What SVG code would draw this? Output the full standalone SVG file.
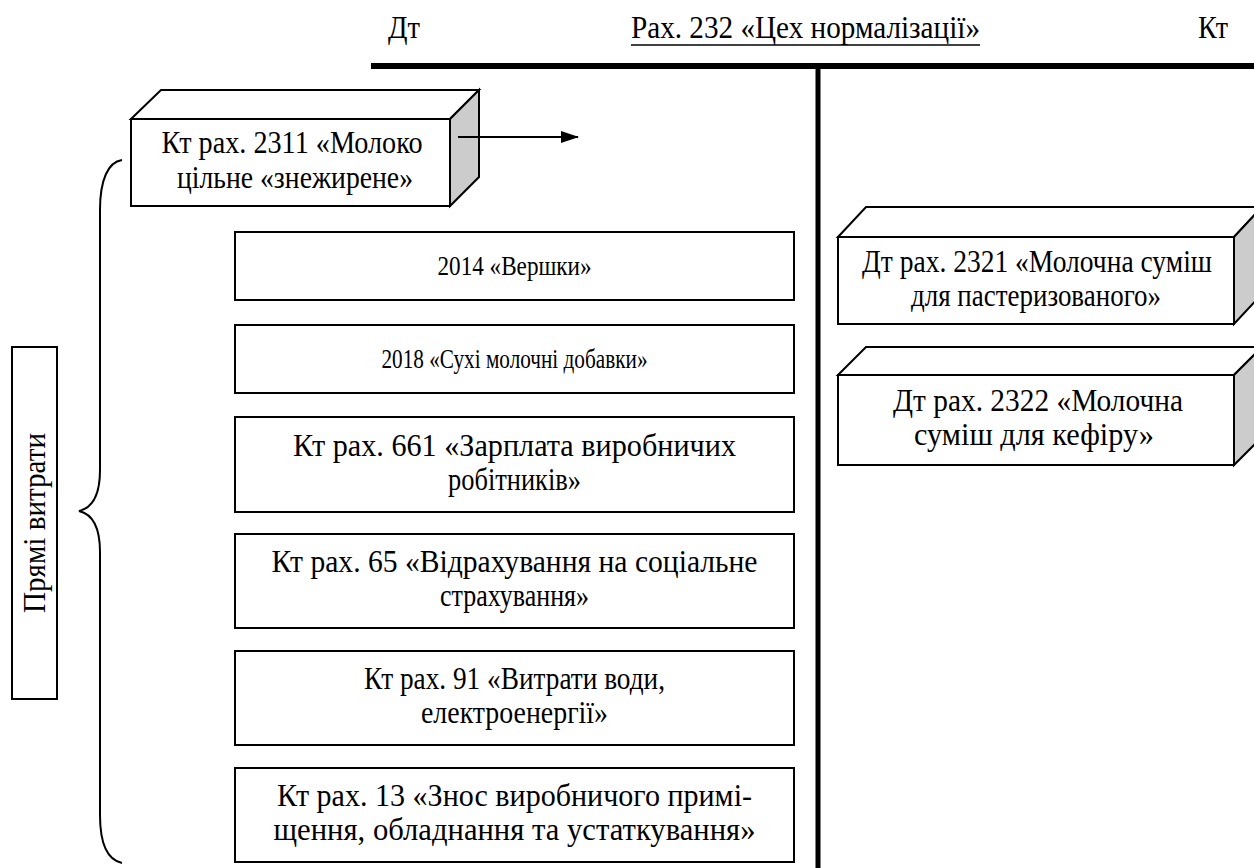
<svg xmlns="http://www.w3.org/2000/svg" width="1254" height="868" viewBox="0 0 1254 868">
  <defs>
    <style>
      .c { text-anchor: middle; }
      .box { fill: #fff; stroke: #000; stroke-width: 2; }
      .face { fill: #fff; stroke: #000; stroke-width: 2; }
      .side { fill: #cccccc; stroke: #000; stroke-width: 2; }
      .bar { stroke: #000; fill: none; }
      .link { stroke: #000; stroke-width: 2; fill: none; }
    </style>
    <marker id="arrow" viewBox="0 0 18 12" refX="17" refY="6" markerWidth="18" markerHeight="12" markerUnits="userSpaceOnUse" orient="auto">
      <path d="M0,0 L18,6 L0,12 Z" fill="#000"/>
    </marker>
  </defs>

  <!-- all labels: condensed serif, each line fitted to its width -->
  <g font-family="Liberation Serif" font-size="32" fill="#000">
  <!-- T-account header -->
  <g id="header">
    <text x="388" y="38" textLength="32" lengthAdjust="spacingAndGlyphs">Дт</text>
    <text x="631" y="38" textLength="349" lengthAdjust="spacingAndGlyphs">Рах. 232 «Цех нормалізації»</text>
    <line x1="631" y1="45" x2="980" y2="45" stroke="#000" stroke-width="1.5"/>
    <text x="1198" y="38" textLength="30" lengthAdjust="spacingAndGlyphs">Кт</text>
  </g>

  <!-- T-account frame -->
  <g id="account-frame">
    <line class="bar" x1="371" y1="66" x2="1254" y2="66" stroke-width="6"/>
    <line class="bar" x1="818" y1="66" x2="818" y2="868" stroke-width="5"/>
  </g>

  <!-- Direct costs label -->
  <g id="direct-costs">
    <rect class="box" x="12" y="347" width="45" height="352"/>
    <text class="c" transform="translate(45,523) rotate(-90)" textLength="180" lengthAdjust="spacingAndGlyphs">Прямі витрати</text>
  </g>

  <!-- Brace grouping the debit entries -->
  <g id="brace">
    <path class="link" d="M122,160 C108,162 100,180 100,210 L100,470 C100,495 92,508 79,511 C92,514 100,527 100,552 L100,815 C100,845 108,860 122,863"/>
  </g>

  <!-- Debit: 2311 (3D block) -->
  <g id="node-2311">
    <polygon class="face" points="131,119 161,90 479,90 450,119"/>
    <polygon class="side" points="450,119 479,90 479,177 450,206"/>
    <rect class="box" x="131" y="119" width="319" height="87"/>
    <text class="c" x="292" y="153" textLength="261" lengthAdjust="spacingAndGlyphs">Кт рах. 2311 «Молоко</text>
    <text class="c" x="295" y="188" textLength="236" lengthAdjust="spacingAndGlyphs">цільне «знежирене»</text>
  </g>

  <!-- Debit entries -->
  <g id="node-2014">
    <rect class="box" x="235" y="232" width="559" height="68"/>
    <text class="c" x="514.5" y="275" font-size="28" textLength="154" lengthAdjust="spacingAndGlyphs">2014 «Вершки»</text>
  </g>
  <g id="node-2018">
    <rect class="box" x="235" y="325" width="559" height="68"/>
    <text class="c" x="514.5" y="368" font-size="28" textLength="266" lengthAdjust="spacingAndGlyphs">2018 «Сухі молочні добавки»</text>
  </g>
  <g id="node-661">
    <rect class="box" x="235" y="417" width="559" height="95"/>
    <text class="c" x="514.5" y="455.5" textLength="443" lengthAdjust="spacingAndGlyphs">Кт рах. 661 «Зарплата виробничих</text>
    <text class="c" x="514.5" y="489.5" textLength="133" lengthAdjust="spacingAndGlyphs">робітників»</text>
  </g>
  <g id="node-65">
    <rect class="box" x="235" y="534" width="559" height="94"/>
    <text class="c" x="514.5" y="572" textLength="486" lengthAdjust="spacingAndGlyphs">Кт рах. 65 «Відрахування на соціальне</text>
    <text class="c" x="514.5" y="606" textLength="149" lengthAdjust="spacingAndGlyphs">страхування»</text>
  </g>
  <g id="node-91">
    <rect class="box" x="235" y="651" width="559" height="94"/>
    <text class="c" x="514.5" y="689" textLength="301" lengthAdjust="spacingAndGlyphs">Кт рах. 91 «Витрати води,</text>
    <text class="c" x="514.5" y="723" textLength="187" lengthAdjust="spacingAndGlyphs">електроенергії»</text>
  </g>
  <g id="node-13">
    <rect class="box" x="235" y="768" width="559" height="94"/>
    <text class="c" x="514.5" y="806" textLength="475" lengthAdjust="spacingAndGlyphs">Кт рах. 13 «Знос виробничого примі-</text>
    <text class="c" x="514.5" y="840" textLength="482" lengthAdjust="spacingAndGlyphs">щення, обладнання та устаткування»</text>
  </g>

  <!-- Credit entries (3D blocks) -->
  <g id="node-2321">
    <polygon class="face" points="838,237 866,207 1262,207 1234,237"/>
    <polygon class="side" points="1234,237 1262,207 1262,294 1234,324"/>
    <rect class="box" x="838" y="237" width="396" height="87"/>
    <text class="c" x="1037" y="272" textLength="350" lengthAdjust="spacingAndGlyphs">Дт рах. 2321 «Молочна суміш</text>
    <text class="c" x="1036" y="306" textLength="250" lengthAdjust="spacingAndGlyphs">для пастеризованого»</text>
  </g>
  <g id="node-2322">
    <polygon class="face" points="838,375 866,347 1262,347 1234,375"/>
    <polygon class="side" points="1234,375 1262,347 1262,437 1234,465"/>
    <rect class="box" x="838" y="375" width="396" height="90"/>
    <text class="c" x="1038" y="411" textLength="290" lengthAdjust="spacingAndGlyphs">Дт рах. 2322 «Молочна</text>
    <text class="c" x="1034" y="445" textLength="240" lengthAdjust="spacingAndGlyphs">суміш для кефіру»</text>
  </g>

  <!-- Connectors -->
  <g id="connectors">
    <line class="link" x1="458" y1="137" x2="578" y2="137" stroke-width="2.5" marker-end="url(#arrow)"/>
  </g>
  </g>
</svg>
